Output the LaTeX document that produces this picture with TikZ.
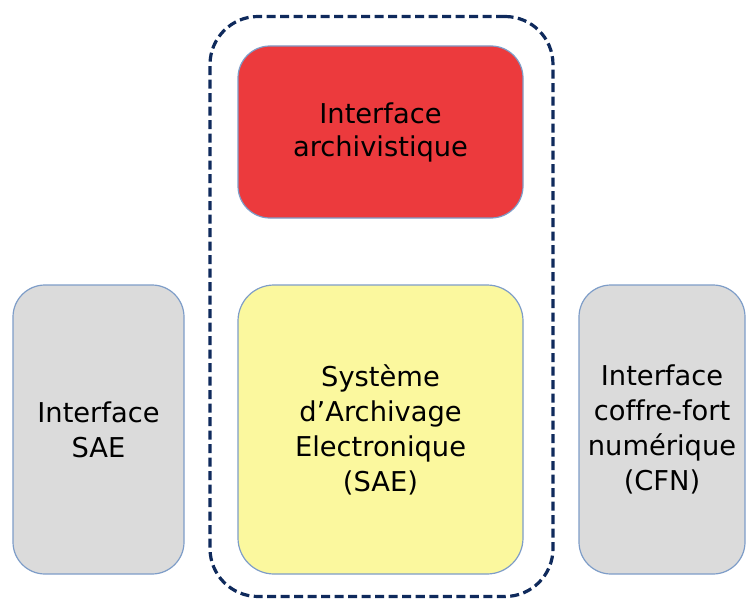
\documentclass[tikz,border=0pt]{standalone}
\usepackage{fontspec}
\setmainfont[Ligatures=NoCommon]{DejaVu Sans}
\definecolor{edgeblue}{HTML}{7E9DC8}
\definecolor{navy}{HTML}{0F2A5C}
\definecolor{boxred}{HTML}{EC3A3D}
\definecolor{boxyellow}{HTML}{FBF89E}
\definecolor{boxgray}{HTML}{DBDBDB}
\begin{document}
\begin{tikzpicture}[x=1pt,y=-1pt,
  block/.style={draw=edgeblue,line width=1.2pt,rounded corners=32pt,
    align=center,inner sep=0pt,
    font=\fontsize{27.3}{35}\selectfont},
  frame/.style={draw=navy,line width=3.2pt,dash pattern=on 9pt off 4.5pt,
    rounded corners=48pt,inner sep=0pt}]
  \useasboundingbox (0,0) rectangle (746,599);
  % dashed envelope around the SAE core
  \node[frame,minimum width=343pt,minimum height=580pt] (core) at (381.5,306.5) {};
  % archival interface on top
  \node[block,fill=boxred,minimum width=285pt,minimum height=172pt,
        font=\fontsize{27.3}{33}\selectfont] (arch) at (380.5,132)
        {Interface\\archivistique};
  % electronic archiving system
  \node[block,fill=boxyellow,minimum width=285pt,minimum height=289pt,
        rounded corners=36pt] (sae) at (380.5,429.5)
        {Système\\d’Archivage\\Electronique\\(SAE)};
  % side interfaces
  \node[block,fill=boxgray,minimum width=171pt,minimum height=289pt] (isae) at (98.5,429.5)
        {Interface\\SAE};
  \node[block,fill=boxgray,minimum width=166pt,minimum height=289pt] (cfn) at (662,429.5)
        {Interface\\coffre-fort\\numérique\\(CFN)};
\end{tikzpicture}
\end{document}
